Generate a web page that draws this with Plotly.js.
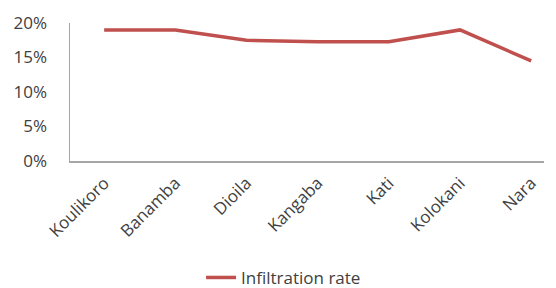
<!DOCTYPE html>
<html><head><meta charset="utf-8">
<script src="https://cdn.plot.ly/plotly-3.0.1.min.js"></script>
<style>body{margin:0;background:#fff}#c{width:556px;height:288px}</style>
</head><body><div id="c"></div>
<script>
const districts = ["Koulikoro","Banamba","Dioila","Kangaba","Kati","Kolokani","Nara"];
const infiltrationRate = [0.19,0.19,0.175,0.173,0.173,0.19,0.145];
const yTicks = [0,0.05,0.10,0.15,0.20];
const yTickLabels = ["0%","5%","10%","15%","20%"];

const font = {family:"Open Sans, sans-serif", size:17, color:"#404040"};
Plotly.newPlot("c",[{
  x: districts.map((d,i)=>i), y: infiltrationRate, type:"scatter", mode:"lines",
  name:"Infiltration rate", line:{color:"#c0504d", width:3.5}
}],{
  width:556, height:288,
  margin:{l:70,r:12,t:23,b:127},
  paper_bgcolor:"#fff", plot_bgcolor:"#fff",
  font: font,
  showlegend:true,
  legend:{orientation:"h", xref:"container", yref:"container", x:0.51, xanchor:"center", y:0.035, yanchor:"middle", font:font},
  xaxis:{range:[-0.48,6.18], tickmode:"array", tickvals:districts.map((d,i)=>i), ticktext:districts,
    tickangle:-45, showgrid:false, zeroline:false, showline:true, linecolor:"#a6a6a6", linewidth:1.5, ticks:"", automargin:false, ticklabelstandoff:4, fixedrange:true, tickfont:font},
  yaxis:{range:[0,0.2], tickmode:"array", tickvals:yTicks, ticktext:yTickLabels, showgrid:false, zeroline:false,
    showline:true, linecolor:"#a6a6a6", linewidth:1.5, ticks:"", automargin:false, ticklabelstandoff:18, tickfont:font}
},{displayModeBar:false, staticPlot:true});
</script></body></html>
